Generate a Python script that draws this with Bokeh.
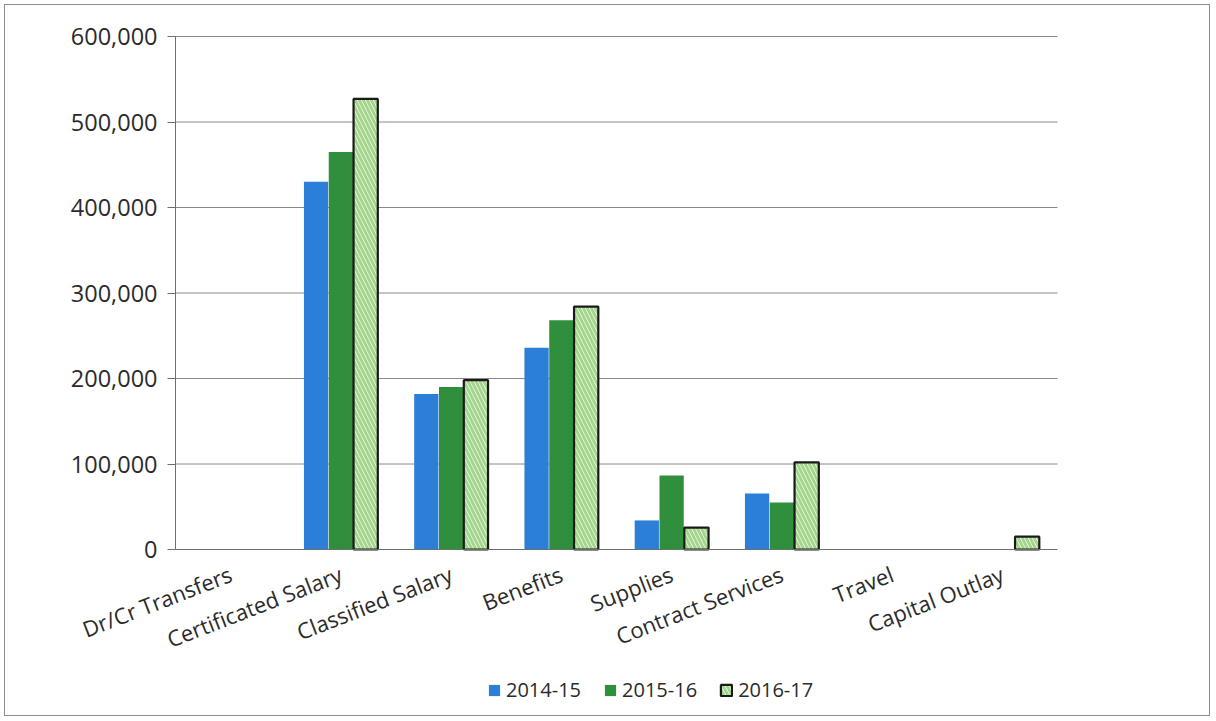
from bokeh.plotting import figure
from bokeh.models import (ColumnDataSource, Legend, LegendItem, NumeralTickFormatter,
                          FixedTicker, CDSView, BooleanFilter, Range1d, CustomJSTickFormatter)
from bokeh.transform import dodge
from bokeh.embed import file_html
from bokeh.resources import INLINE

categories = ["Dr/Cr Transfers", "Certificated Salary", "Classified Salary", "Benefits",
              "Supplies", "Contract Services", "Travel", "Capital Outlay"]
y2014_15 = [0, 430000, 182000, 236000, 34000, 65500, 0, 0]
y2015_16 = [0, 465000, 190000, 268000, 86500, 55000, 0, 0]
y2016_17 = [0, 527000, 198000, 284000, 25700, 102000, 0, 15000]
series_names = ["2014-15", "2015-16", "2016-17"]
y_ticks = [0, 100000, 200000, 300000, 400000, 500000, 600000]
y_max = 600000

n = len(categories)
x_pos = [i + 0.5 for i in range(n)]
src = ColumnDataSource(dict(x=x_pos, a=y2014_15, b=y2015_16, c=y2016_17))
view_c = CDSView(filter=BooleanFilter([v > 0 for v in y2016_17]))

# layout in pixels: figure 1206x712; plot area 882x513 with 170 px left, 154 right, 31 top
FIG_W, FIG_H = 1206, 712
LEFT, RIGHT, TOP, AX_W, AX_H = 170, 154, 31, 882, 513
unit = AX_W / n
x_lo, x_hi = -LEFT / unit, n + RIGHT / unit
y_hi = y_max + TOP / AX_H * y_max
y_lo = -(FIG_H - TOP - AX_H) / AX_H * y_max

FONT = "Open Sans"
p = figure(x_range=Range1d(x_lo, x_hi), y_range=Range1d(y_lo, y_hi),
           width=FIG_W, height=FIG_H, output_backend="svg", toolbar_location=None,
           min_border=0)
p.styles = {"margin-left": "4px", "margin-top": "4px", "border": "1px solid #8c8c8c"}
p.outline_line_color = None
p.background_fill_color = "white"
p.xgrid.grid_line_color = None
p.ygrid.grid_line_color = None

# horizontal gridlines across the category span
grid_y = y_ticks[1:]
p.segment(x0=[0] * len(grid_y), x1=[n] * len(grid_y), y0=grid_y, y1=grid_y,
          line_color="#8a8a8a", line_width=1)

bw = 0.22
r1 = p.vbar(x=dodge("x", -0.225), top="a", width=bw, source=src,
            fill_color="#2B7FD6", line_color=None)
r2 = p.vbar(x=dodge("x", 0.0), top="b", width=bw, source=src,
            fill_color="#2F8F3C", line_color=None)
r3 = p.vbar(x=dodge("x", 0.225), top="c", width=bw, source=src, view=view_c,
            fill_color="white", line_color="#1a1a1a", line_width=2.2,
            hatch_pattern="\\", hatch_color="#A3D68C", hatch_scale=8, hatch_weight=3)

p.yaxis.fixed_location = 0
p.yaxis.bounds = (0, y_max)
p.yaxis.ticker = FixedTicker(ticks=y_ticks)
p.yaxis.formatter = NumeralTickFormatter(format="0,0")
p.yaxis.major_label_text_font = FONT
p.yaxis.major_label_text_font_size = "23.5px"
p.yaxis.major_label_text_color = "#2b2b2b"
p.yaxis.major_label_standoff = 10
p.yaxis.axis_line_color = "#6e6e6e"
p.yaxis.major_tick_line_color = "#6e6e6e"
p.yaxis.major_tick_out = 8
p.yaxis.major_tick_in = 0
p.yaxis.minor_tick_line_color = None

p.xaxis.fixed_location = 0
p.xaxis.bounds = (0, n)
p.xaxis.ticker = FixedTicker(ticks=x_pos)
p.xaxis.formatter = CustomJSTickFormatter(args=dict(names=categories),
                                          code="return names[Math.round(tick - 0.5)];")
p.xaxis.major_label_orientation = 0.37
p.xaxis.major_label_text_font = FONT
p.xaxis.major_label_text_font_size = "22px"
p.xaxis.major_label_text_color = "#2b2b2b"
p.xaxis.major_label_standoff = 17
p.xaxis.axis_line_color = "#6e6e6e"
p.xaxis.major_tick_line_color = None
p.xaxis.minor_tick_line_color = None

legend = Legend(items=[LegendItem(label=series_names[0], renderers=[r1]),
                       LegendItem(label=series_names[1], renderers=[r2]),
                       LegendItem(label=series_names[2], renderers=[r3])],
                orientation="horizontal", location=(482, 14),
                label_text_font=FONT, label_text_font_size="20px", label_text_color="#2b2b2b",
                glyph_width=14, glyph_height=14, spacing=22, label_standoff=5,
                margin=0, padding=4,
                border_line_color=None, background_fill_alpha=0)
p.add_layout(legend, "center")

open("out.html", "w").write(file_html(p, INLINE))
